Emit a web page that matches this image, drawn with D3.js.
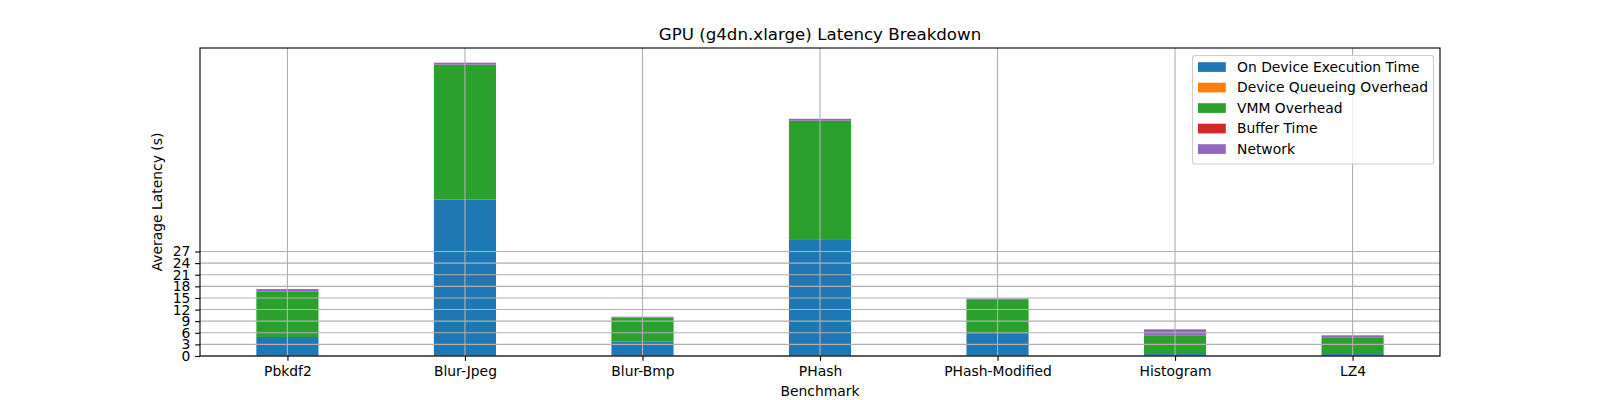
<!DOCTYPE html>
<html>
<head>
<meta charset="utf-8">
<script src="https://cdn.jsdelivr.net/npm/d3@7"></script>
<style>
html,body{margin:0;padding:0;background:#fff;}
svg{display:block;font-family:"DejaVu Sans",sans-serif;}
</style>
</head>
<body>
<svg id="chart" width="1600" height="400"></svg>
<script>
const categories = ["Pbkdf2","Blur-Jpeg","Blur-Bmp","PHash","PHash-Modified","Histogram","LZ4"];
const seriesNames = ["On Device Execution Time","Device Queueing Overhead","VMM Overhead","Buffer Time","Network"];
const onDevice = [4.9, 40.4, 3.7, 30.0, 5.7, 0.5, 0.5];
const queueing = [0, 0, 0, 0, 0, 0, 0];
const vmm = [11.7, 34.9, 6.2, 30.8, 8.8, 4.85, 4.35];
const buffer = [0, 0, 0, 0, 0, 0, 0];
const network = [0.7, 0.5, 0.25, 0.5, 0.35, 1.55, 0.5];
const yTicks = [0,3,6,9,12,15,18,21,24,27];
const colors = ["#1f77b4","#ff7f0e","#2ca02c","#d62728","#9467bd"];

const series = [onDevice, queueing, vmm, buffer, network];
const svg = d3.select("#chart");
const L=200,R=1440,T=48,B=356;
const FS = 13.89;
const barW = 0.35;
const n = categories.length;
const xs = d3.scaleLinear().domain([-barW/2 - 0.05*(n-1+barW), (n-1)+barW/2 + 0.05*(n-1+barW)]).range([L,R]);
const totals = categories.map((c,i)=>d3.sum(series,s=>s[i]));
const ys = d3.scaleLinear().domain([0, d3.max(totals)*1.05]).range([B,T]);

// bars
const rows = categories.map((c,i)=>{const o={cat:c,idx:i}; seriesNames.forEach((s,j)=>o[s]=series[j][i]); return o;});
const stacked = d3.stack().keys(seriesNames)(rows);
stacked.forEach((layer,j)=>{
  svg.append("g").selectAll("rect").data(layer).join("rect")
    .attr("x",d=>xs(d.data.idx-barW/2))
    .attr("width",d=>xs(d.data.idx+barW/2)-xs(d.data.idx-barW/2))
    .attr("y",d=>ys(d[1]))
    .attr("height",d=>Math.max(0,ys(d[0])-ys(d[1])))
    .attr("fill",colors[j]);
});

// grid
const grid = svg.append("g");
yTicks.forEach(t=>grid.append("line").attr("x1",L).attr("x2",R).attr("y1",ys(t)).attr("y2",ys(t)).attr("stroke","#b0b0b0").attr("stroke-width",1.11));
categories.forEach((c,i)=>grid.append("line").attr("x1",xs(i)).attr("x2",xs(i)).attr("y1",T).attr("y2",B).attr("stroke","#b0b0b0").attr("stroke-width",1.11));

// axes
const xAxis = d3.axisBottom(xs).tickValues(d3.range(n)).tickFormat(i=>categories[i]).tickSize(4.86).tickPadding(4.86);
const yAxis = d3.axisLeft(ys).tickValues(yTicks).tickFormat(d3.format("d")).tickSize(4.86).tickPadding(4.86);
const gx = svg.append("g").attr("transform",`translate(0,${B})`).call(xAxis);
const gy = svg.append("g").attr("transform",`translate(${L},0)`).call(yAxis);
[gx,gy].forEach(g=>{
  g.select(".domain").remove();
  g.selectAll("line").attr("stroke","#000").attr("stroke-width",1.11);
  g.selectAll("text").attr("font-family","DejaVu Sans").attr("font-size",FS+"px").attr("fill","#000");
});

// spines
svg.append("rect").attr("x",L).attr("y",T).attr("width",R-L).attr("height",B-T).attr("fill","none").attr("stroke","#000").attr("stroke-width",1.11);

// labels
svg.append("text").attr("x",(L+R)/2).attr("y",T-8).attr("text-anchor","middle").attr("font-size","16.67px").text("GPU (g4dn.xlarge) Latency Breakdown");
svg.append("text").attr("x",(L+R)/2).attr("y",396).attr("text-anchor","middle").attr("font-size",FS+"px").text("Benchmark");
svg.append("text").attr("transform",`translate(162,${(T+B)/2}) rotate(-90)`).attr("text-anchor","middle").attr("font-size",FS+"px").text("Average Latency (s)");

// legend
const lg = svg.append("g");
const lx=1192.5, ly=55.5, lw=241, lh=108.5;
lg.append("rect").attr("x",lx).attr("y",ly).attr("width",lw).attr("height",lh).attr("rx",2.5)
  .attr("fill","#fff").attr("fill-opacity",0.8).attr("stroke","#cccccc").attr("stroke-width",1.11);
seriesNames.forEach((s,j)=>{
  const cy = 66.8 + j*20.5;
  lg.append("rect").attr("x",1198).attr("y",cy-4.6).attr("width",27.8).attr("height",9.7).attr("fill",colors[j]);
  lg.append("text").attr("x",1237).attr("y",cy+5).attr("font-size",FS+"px").text(s);
});
</script>
</body>
</html>
